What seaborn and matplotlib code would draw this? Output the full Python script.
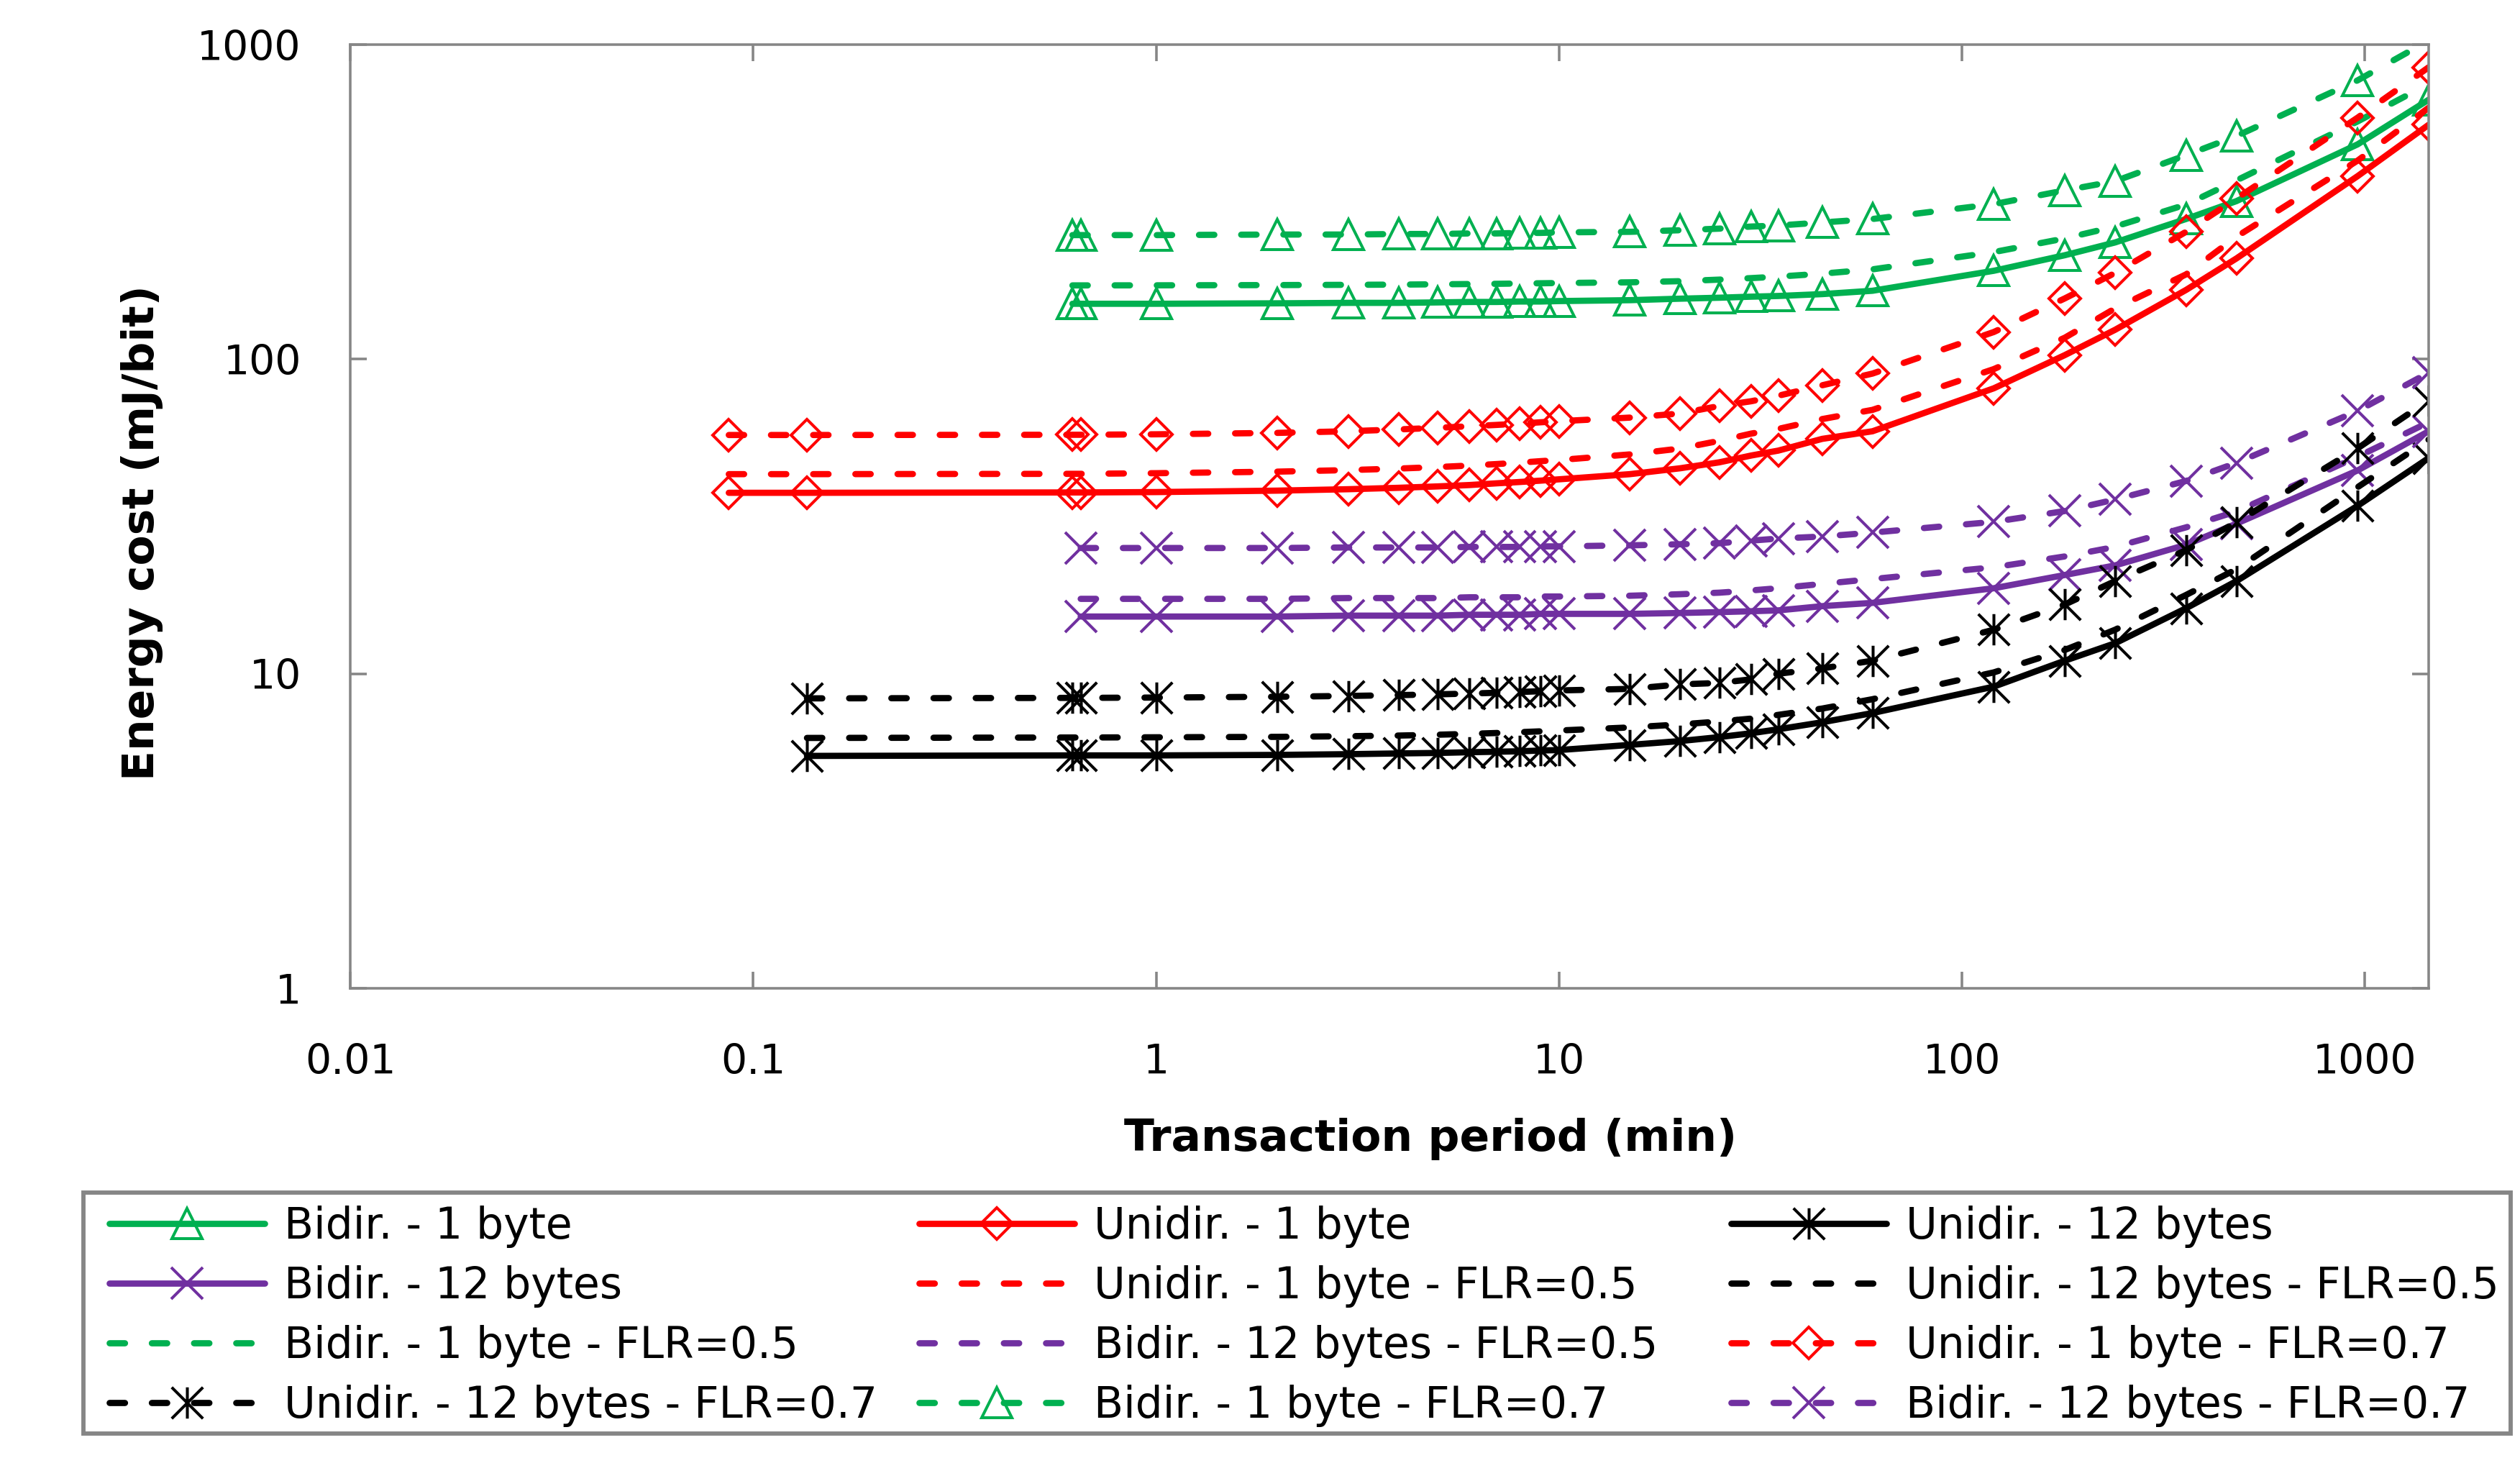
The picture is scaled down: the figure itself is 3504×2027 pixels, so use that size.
import matplotlib
matplotlib.use("Agg")
import matplotlib.pyplot as plt
from matplotlib.path import Path
from matplotlib.patches import Rectangle
from matplotlib.ticker import FixedLocator, FixedFormatter, NullLocator
import seaborn as sns

# ---------------- data ----------------
x_unidir_1byte = [0.087, 0.136, 0.62, 0.65, 1, 2, 3, 4, 5, 6, 7, 8, 9, 10,
                  15, 20, 25, 30, 35, 45, 60, 120, 180, 240, 360, 480, 960, 1440]
x_unidir_12bytes = [0.136, 0.62, 0.65, 1, 2, 3, 4, 5, 6, 7, 8, 9, 10,
                    15, 20, 25, 30, 35, 45, 60, 120, 180, 240, 360, 480, 960, 1440]
x_bidir_1byte = [0.62, 0.65, 1, 2, 3, 4, 5, 6, 7, 8, 9, 10,
                 15, 20, 25, 30, 35, 45, 60, 120, 180, 240, 360, 480, 960, 1440]
x_bidir_12bytes = [0.65, 1, 2, 3, 4, 5, 6, 7, 8, 9, 10,
                   15, 20, 25, 30, 35, 45, 60, 120, 180, 240, 360, 480, 960, 1440]

unidir_1byte = [37.6, 37.6, 37.7, 37.7, 37.8, 38.2, 38.6, 39.0, 39.4, 39.8, 40.3, 40.7, 41.1, 41.5,
                43.1, 45.0, 47.0, 49.4, 51.2, 55.8, 59.0, 80.8, 103, 124, 166, 209, 382, 556]
unidir_1byte_flr05 = [43.1, 43.1, 43.2, 43.2, 43.4, 43.9, 44.4, 44.9, 45.4, 45.9, 46.4, 46.9, 47.4, 47.8,
                      49.8, 52.0, 55.0, 58.0, 60.0, 64.5, 69.0, 93.0, 117, 145, 186, 245, 428, 630]
unidir_1byte_flr07 = [57.4, 57.4, 57.5, 57.5, 57.7, 58.3, 59.0, 59.8, 60.5, 61.2, 61.8, 62.4, 63.0, 63.5,
                      65.2, 67.2, 71.0, 73.5, 76.5, 82.6, 90.0, 122, 156, 188, 254, 324, 586, 847]

unidir_12bytes = [5.48, 5.50, 5.50, 5.50, 5.52, 5.55, 5.58, 5.60, 5.63, 5.65, 5.67, 5.70, 5.72,
                  5.94, 6.11, 6.29, 6.47, 6.66, 7.01, 7.50, 9.1, 11.0, 12.5, 16.15, 19.7, 34.2, 48.5]
unidir_12bytes_flr05 = [6.25, 6.27, 6.27, 6.28, 6.30, 6.33, 6.36, 6.40, 6.44, 6.48, 6.52, 6.56, 6.60,
                        6.75, 6.90, 7.05, 7.20, 7.40, 7.75, 8.30, 10.1, 11.9, 13.8, 17.8, 21.5, 39.2, 55.5]
unidir_12bytes_flr07 = [8.35, 8.38, 8.38, 8.40, 8.45, 8.50, 8.55, 8.60, 8.65, 8.70, 8.75, 8.80, 8.85,
                        8.95, 9.25, 9.35, 9.60, 10.0, 10.4, 11.0, 13.8, 16.6, 19.7, 24.7, 30.3, 52.1, 74.0]

bidir_1byte = [150, 150, 150, 150.5, 151, 151, 151.5, 152, 152, 152.5, 152.5, 153,
               154, 155.7, 156.8, 158, 158.8, 161, 165, 191, 214, 235, 279, 318, 482, 668]
bidir_1byte_flr05 = [171.6, 171.6, 171.7, 172, 172.3, 172.6, 173, 173.3, 173.6, 174, 174.3, 174.6,
                     175.5, 177, 179, 181, 183, 187, 193, 219, 242, 264, 310, 370, 570, 750]
bidir_1byte_flr07 = [248, 248, 248, 249, 249, 250, 250, 251, 251, 252, 252, 253,
                     254, 257, 260, 264, 266, 272, 279, 311, 344, 368, 445, 512, 770, 1030]

bidir_12bytes = [15.2, 15.2, 15.2, 15.3, 15.3, 15.3, 15.4, 15.4, 15.4, 15.5, 15.5,
                 15.5, 15.6, 15.7, 15.8, 15.9, 16.4, 16.8, 18.7, 20.6, 22.1, 25.7, 30.0, 44.3, 59.0]
bidir_12bytes_flr05 = [17.3, 17.3, 17.3, 17.4, 17.4, 17.4, 17.5, 17.5, 17.5, 17.6, 17.6,
                       17.7, 17.9, 18.1, 18.4, 18.7, 19.3, 20.0, 21.8, 23.6, 25.3, 29.2, 32.8, 49.0, 63.0]
bidir_12bytes_flr07 = [25.1, 25.1, 25.1, 25.2, 25.2, 25.2, 25.3, 25.3, 25.3, 25.4, 25.4,
                       25.6, 25.8, 26.0, 26.5, 26.9, 27.3, 28.1, 30.4, 32.9, 35.8, 41.0, 46.8, 68.5, 90.5]

x_ticks = [0.01, 0.1, 1, 10, 100, 1000]
x_tick_labels = ["0.01", "0.1", "1", "10", "100", "1000"]
y_ticks = [1, 10, 100, 1000]
y_tick_labels = ["1", "10", "100", "1000"]

# ---------------- styling ----------------
sns.set_theme(style="white")
plt.rcParams["font.family"] = ["DejaVu Sans"]

GREEN, RED, BLACK, PURPLE = "#00B050", "#FF0000", "#000000", "#7030A0"
GRAY = "#868686"
LW = 2.8
DASH = (0, (2.45, 4.3))
STAR = Path([(-1, -1), (1, 1), (-1, 1), (1, -1), (0, -1), (0, 1)],
            [Path.MOVETO, Path.LINETO] * 3)

W, H = 3504, 2027
DPI = 223.5
fig = plt.figure(figsize=(W / DPI, H / DPI), dpi=DPI)
ax = fig.add_axes([487 / W, 1 - 1374 / H, (3377 - 487) / W, (1374 - 62) / H])
ax.set_xscale("log")
ax.set_yscale("log")

series = [
    ("Bidir. - 1 byte", x_bidir_1byte, bidir_1byte, GREEN, False, "^", 13.5),
    ("Unidir. - 1 byte", x_unidir_1byte, unidir_1byte, RED, False, "D", 10),
    ("Unidir. - 12 bytes", x_unidir_12bytes, unidir_12bytes, BLACK, False, STAR, 14),
    ("Bidir. - 12 bytes", x_bidir_12bytes, bidir_12bytes, PURPLE, False, "x", 14),
    ("Unidir. - 1 byte - FLR=0.5", x_unidir_1byte, unidir_1byte_flr05, RED, True, None, 0),
    ("Unidir. - 12 bytes - FLR=0.5", x_unidir_12bytes, unidir_12bytes_flr05, BLACK, True, None, 0),
    ("Bidir. - 1 byte - FLR=0.5", x_bidir_1byte, bidir_1byte_flr05, GREEN, True, None, 0),
    ("Bidir. - 12 bytes - FLR=0.5", x_bidir_12bytes, bidir_12bytes_flr05, PURPLE, True, None, 0),
    ("Unidir. - 1 byte - FLR=0.7", x_unidir_1byte, unidir_1byte_flr07, RED, True, "D", 10),
    ("Unidir. - 12 bytes - FLR=0.7", x_unidir_12bytes, unidir_12bytes_flr07, BLACK, True, STAR, 14),
    ("Bidir. - 1 byte - FLR=0.7", x_bidir_1byte, bidir_1byte_flr07, GREEN, True, "^", 13.5),
    ("Bidir. - 12 bytes - FLR=0.7", x_bidir_12bytes, bidir_12bytes_flr07, PURPLE, True, "x", 14),
]

handles = {}
for label, xs, ys, color, dashed, marker, ms in series:
    kw = dict(color=color, linewidth=LW, dash_capstyle="round", solid_capstyle="round",
              clip_on=True)
    if dashed:
        kw["linestyle"] = DASH
    if marker is not None:
        kw.update(marker=marker, markersize=ms, markerfacecolor="none",
                  markeredgecolor=color, markeredgewidth=1.3)
        # points beyond the axis range are not marked
        kw["markevery"] = [i for i, v in enumerate(ys) if v <= 1000]
    sns.lineplot(x=xs, y=ys, ax=ax, estimator=None, errorbar=None, sort=False,
                 legend=False, **kw)
    handles[label] = ax.lines[-1]

ax.set_xlim(0.01, 1440)
ax.set_ylim(1, 1000)
ax.xaxis.set_major_locator(FixedLocator(x_ticks))
ax.xaxis.set_major_formatter(FixedFormatter(x_tick_labels))
ax.yaxis.set_major_locator(FixedLocator(y_ticks))
ax.yaxis.set_major_formatter(FixedFormatter(y_tick_labels))
ax.xaxis.set_minor_locator(NullLocator())
ax.yaxis.set_minor_locator(NullLocator())
ax.tick_params(which="major", direction="in", length=7.5, width=1.15, color=GRAY,
               top=True, right=True, bottom=True, left=True, labelsize=18.3, labelcolor="black")
ax.tick_params(axis="x", pad=24.5)
ax.tick_params(axis="y", pad=22)
for sp in ax.spines.values():
    sp.set_visible(True)
    sp.set_color(GRAY)
    sp.set_linewidth(1.15)
ax.grid(False)

ax.set_xlabel("Transaction period (min)", fontsize=19.8, fontweight="bold", color="black")
ax.set_ylabel("Energy cost (mJ/bit)", fontsize=19.8, fontweight="bold", color="black")
ax.xaxis.set_label_coords(0.5197, -0.137)
ax.yaxis.set_label_coords(-0.0898, 0.483)

# ---------------- legend (3 fixed-position columns) ----------------
columns = [
    ["Bidir. - 1 byte", "Bidir. - 12 bytes", "Bidir. - 1 byte - FLR=0.5", "Unidir. - 12 bytes - FLR=0.7"],
    ["Unidir. - 1 byte", "Unidir. - 1 byte - FLR=0.5", "Bidir. - 12 bytes - FLR=0.5", "Bidir. - 1 byte - FLR=0.7"],
    ["Unidir. - 12 bytes", "Unidir. - 12 bytes - FLR=0.5", "Unidir. - 1 byte - FLR=0.7", "Bidir. - 12 bytes - FLR=0.7"],
]
col_x = [152 / W, 1278 / W, 2407 / W]
for labels, cx in zip(columns, col_x):
    fig.legend([handles[l] for l in labels], labels, loc="upper left",
               bbox_to_anchor=(cx, 1 - 1676 / H), bbox_transform=fig.transFigure,
               frameon=False, borderpad=0, borderaxespad=0, fontsize=19.3,
               handlelength=3.6, handletextpad=0.45, labelspacing=0.4,
               numpoints=1, labelcolor="black")

fig.add_artist(Rectangle((116 / W, 1 - 1993 / H), (3491 - 116) / W, (1993 - 1658) / H,
                         transform=fig.transFigure, fill=False, edgecolor=GRAY,
                         linewidth=1.9))

fig.savefig("out.png", dpi=DPI)
